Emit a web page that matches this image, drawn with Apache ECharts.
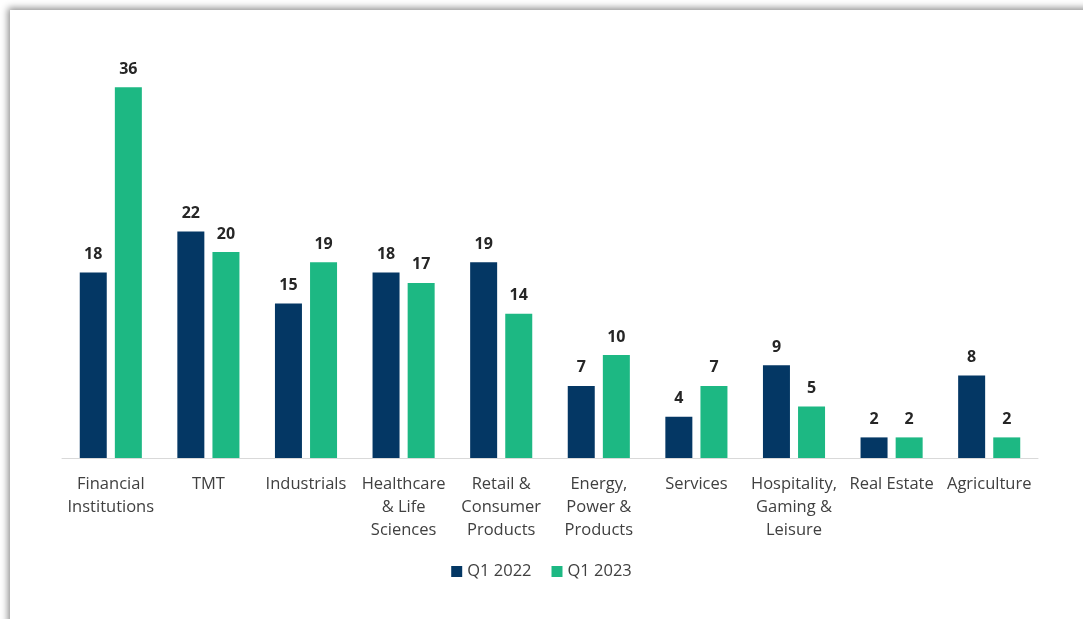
<!DOCTYPE html>
<html>
<head>
<meta charset="utf-8">
<script src="https://cdn.jsdelivr.net/npm/echarts@6/dist/echarts.min.js"></script>
<style>
html,body{margin:0;padding:0;background:#fff;overflow:hidden;}
#card{position:absolute;left:10px;top:10px;width:1090px;height:640px;background:#fff;box-shadow:-2px -2px 7px rgba(0,0,0,0.45);}
#chart{position:absolute;left:0;top:0;width:1083px;height:619px;}
</style>
</head>
<body>
<div id="card"></div>
<div id="chart"></div>
<script>
const categories = ["Financial\nInstitutions","TMT","Industrials","Healthcare\n& Life\nSciences","Retail &\nConsumer\nProducts","Energy,\nPower &\nProducts","Services","Hospitality,\nGaming &\nLeisure","Real Estate","Agriculture"];
const q1_2022 = [18,22,15,18,19,7,4,9,2,8];
const q1_2023 = [36,20,19,17,14,10,7,5,2,2];
const seriesNames = ["Q1 2022","Q1 2023"];

const chart = echarts.init(document.getElementById('chart'), null, {renderer:'canvas'});
const font = "'Open Sans', 'Noto Sans', sans-serif";
const labelCfg = {show:true, position:'top', distance:10, fontFamily:font, fontSize:16, fontWeight:'bold', color:'#262626'};
chart.setOption({
  backgroundColor:'transparent',
  animation:false,
  grid:{left:62, right:45, top:46, bottom:161, containLabel:false},
  legend:{
    data:seriesNames, bottom:34, left:'center', itemWidth:11, itemHeight:11, itemGap:20,
    icon:'rect', textStyle:{fontFamily:font, fontSize:16.5, color:'#404040'}
  },
  xAxis:{
    type:'category', data:categories,
    axisLine:{lineStyle:{color:'#d9d9d9', width:1}},
    axisTick:{show:false},
    axisLabel:{interval:0, margin:15, fontFamily:font, fontSize:16.5, lineHeight:23, color:'#404040'}
  },
  yAxis:{type:'value', min:0, max:40, show:false, splitLine:{show:false}},
  series:[
    {name:seriesNames[0], type:'bar', data:q1_2022, barWidth:27, barGap:'30%', itemStyle:{color:'#043764'}, label:labelCfg},
    {name:seriesNames[1], type:'bar', data:q1_2023, barWidth:27, itemStyle:{color:'#1db883'}, label:labelCfg}
  ]
});
</script>
</body>
</html>
